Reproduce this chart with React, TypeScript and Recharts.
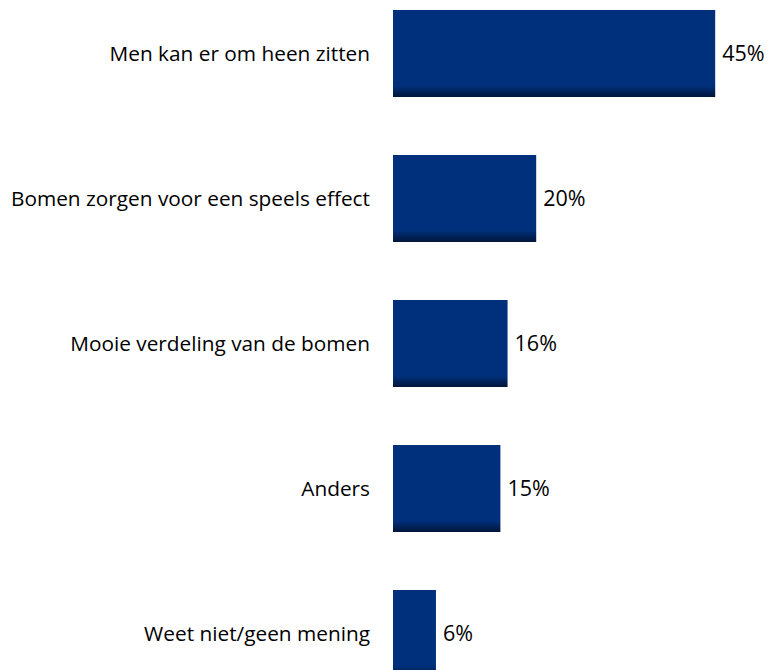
import { BarChart, Bar, XAxis, YAxis, LabelList } from 'recharts'

const categories = [
  'Men kan er om heen zitten',
  'Bomen zorgen voor een speels effect',
  'Mooie verdeling van de bomen',
  'Anders',
  'Weet niet/geen mening',
]
const values = [45, 20, 16, 15, 6]

const data = categories.map((name, i) => ({ name, value: values[i] }))

const font = '"Open Sans", Lato, sans-serif'

export default function App() {
  return (
    <div style={{ position: 'absolute', left: 0, top: 0, width: 770, height: 670, overflow: 'hidden', background: '#fff' }}>
      <div style={{ position: 'absolute', left: 0, top: -19 }}>
        <BarChart
          width={770}
          height={725}
          data={data}
          layout="vertical"
          barCategoryGap="20%"
          margin={{ top: 0, right: 19, bottom: 0, left: 0 }}
        >
          <defs>
            <linearGradient id="barFill" x1="0" y1="0" x2="0" y2="1">
              <stop offset="0%" stopColor="#00307c" />
              <stop offset="87%" stopColor="#00307c" />
              <stop offset="100%" stopColor="#001538" />
            </linearGradient>
          </defs>
          <XAxis type="number" domain={[0, 50]} hide />
          <YAxis
            type="category"
            dataKey="name"
            width={393}
            axisLine={false}
            tickLine={false}
            tickSize={0}
            tickMargin={23}
            tick={{ fill: '#000', fontSize: 20.8, fontFamily: font }}
          />
          <Bar dataKey="value" fill="url(#barFill)" isAnimationActive={false}>
            <LabelList
              dataKey="value"
              position="right"
              offset={7}
              formatter={(v: number) => `${v}%`}
              style={{ fill: '#000', fontSize: 21.5, fontFamily: font }}
            />
          </Bar>
        </BarChart>
      </div>
    </div>
  )
}
